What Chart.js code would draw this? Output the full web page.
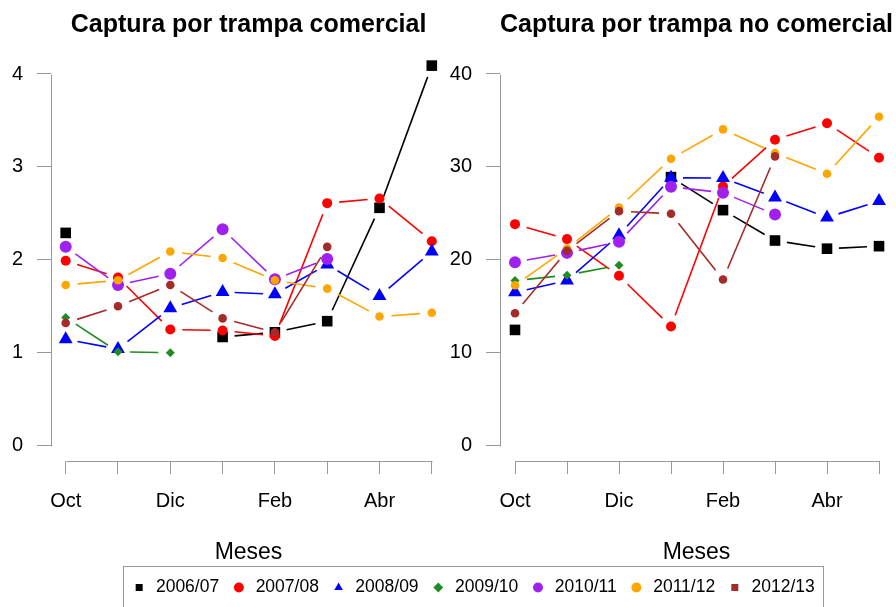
<!DOCTYPE html>
<html>
<head>
<meta charset="utf-8">
<script src="https://cdn.jsdelivr.net/npm/chart.js@4.4.1/dist/chart.umd.min.js"></script>
<style>
  html, body { margin: 0; padding: 0; background: #fff; overflow: hidden; }
  #wrap { position: relative; width: 896px; height: 607px; overflow: hidden; background: #fff; }
  #c1 { position: absolute; left: 0; top: 0; }
  #c2 { position: absolute; left: 440px; top: 0; }
  #c3 { position: absolute; left: 0; top: 560px; }
</style>
</head>
<body>
<div id="wrap">
  <canvas id="c1" width="446" height="580"></canvas>
  <canvas id="c2" width="453" height="580"></canvas>
  <canvas id="c3" width="896" height="70"></canvas>
</div>
<script>
// meses de la temporada (solo se rotulan Oct, Dic, Feb, Abr)
const meses = ['Oct', 'Nov', 'Dic', 'Ene', 'Feb', 'Mar', 'Abr', 'May'];
const temporadas = ['2006/07', '2007/08', '2008/09', '2009/10', '2010/11', '2011/12', '2012/13'];

// captura por trampa comercial
const com0607 = [2.29, null, null, 1.17, 1.22, 1.34, 2.56, 4.09];
const com0708 = [1.99, 1.81, 1.25, 1.24, 1.18, 2.61, 2.66, 2.20];
const com0809 = [1.145, 1.04, 1.48, 1.655, 1.63, 1.95, 1.61, 2.09];
const com0910 = [1.38, 1.01, 1.00, null, null, null, null, null];
const com1011 = [2.14, 1.73, 1.85, 2.33, 1.79, 2.01, null, null];
const com1112 = [1.73, 1.78, 2.09, 2.02, 1.78, 1.69, 1.39, 1.43];
const com1213 = [1.32, 1.50, 1.73, 1.37, 1.22, 2.14, null, null];

// captura por trampa no comercial
const noc0607 = [12.46, null, null, 28.9, 25.35, 22.08, 21.2, 21.47];
const noc0708 = [23.84, 22.23, 18.28, 12.82, 27.9, 32.93, 34.69, 30.99];
const noc0809 = [16.5, 17.77, 22.66, 28.83, 28.8, 26.71, 24.56, 26.32];
const noc0910 = [17.77, 18.35, 19.43, null, null, null, null, null];
const noc1011 = [19.75, 20.75, 21.94, 27.86, 27.22, 24.88, null, null];
const noc1112 = [17.27, 21.22, 25.64, 30.88, 34.04, 31.49, 29.26, 35.4];
const noc1213 = [14.25, 20.97, 25.24, 24.96, 17.88, 31.13, null, null];

const ticksCom = [0, 1, 2, 3, 4];
const ticksNoc = [0, 10, 20, 30, 40];

const colores = ['#000000', '#FF0000', '#0000FF', '#228B22', '#A020F0', '#FFA500', '#A52A2A'];
const simbolos = ['rect', 'circle', 'triangle', 'rectRot', 'circle', 'circle', 'circle'];
const simbolosLeyenda = ['rect', 'circle', 'triangle', 'rectRot', 'circle', 'circle', 'rect'];
const radios = [7.5, 5, 8, 4.5, 6, 4.3, 4.3];

const GRIS = '#999999';
const HUECO = 12;
const FUENTE = 'Liberation Sans, Arial, sans-serif';

// lineas tipo "b" de R: cortadas alrededor de cada punto
const lineasConHueco = {
    id: 'lineasConHueco',
    beforeDatasetDraw(chart, args) {
        const pts = args.meta.data;
        const ds = chart.data.datasets[args.index];
        const ctx = chart.ctx;
        ctx.save();
        ctx.strokeStyle = ds.borderColor;
        ctx.lineWidth = 1.6;
        for (let i = 0; i < pts.length - 1; i++) {
            if (pts[i].skip || pts[i + 1].skip) continue;
            const dx = pts[i + 1].x - pts[i].x;
            const dy = pts[i + 1].y - pts[i].y;
            const len = Math.hypot(dx, dy);
            if (len <= 2 * HUECO) continue;
            const ux = dx / len, uy = dy / len;
            ctx.beginPath();
            ctx.moveTo(pts[i].x + ux * HUECO, pts[i].y + uy * HUECO);
            ctx.lineTo(pts[i + 1].x - ux * HUECO, pts[i + 1].y - uy * HUECO);
            ctx.stroke();
        }
        ctx.restore();
    }
};

// ejes al estilo R: solo entre el primer y ultimo tick
const ejesR = {
    id: 'ejesR',
    afterDraw(chart) {
        const {ctx, chartArea, scales: {x, y}} = chart;
        const yTicks = y.ticks.map(t => t.value);
        const xTicks = x.ticks.map(t => t.value);
        const ax = Math.round(chartArea.left) + 0.5;
        const ay = Math.round(chartArea.bottom) + 0.5;
        ctx.save();
        ctx.strokeStyle = GRIS;
        ctx.lineWidth = 1;
        ctx.beginPath();
        ctx.moveTo(ax, Math.round(y.getPixelForValue(yTicks[0])) + 0.5);
        ctx.lineTo(ax, Math.round(y.getPixelForValue(yTicks[yTicks.length - 1])) + 0.5);
        ctx.moveTo(Math.round(x.getPixelForValue(xTicks[0])) + 0.5, ay);
        ctx.lineTo(Math.round(x.getPixelForValue(xTicks[xTicks.length - 1])) + 0.5, ay);
        ctx.stroke();
        ctx.restore();
    }
};

function hacerPanel(canvasId, titulo, series, yTicks, yMin, yMax, ejeAncho, xMin, xMax) {
    const datasets = series.map((serie, i) => ({
        label: temporadas[i],
        data: serie.map((v, j) => ({x: j, y: v})),
        borderColor: colores[i],
        backgroundColor: colores[i],
        pointStyle: simbolos[i],
        pointRadius: radios[i],
        pointHoverRadius: radios[i],
        pointBackgroundColor: colores[i],
        pointBorderWidth: 0,
        showLine: false,
        clip: false,
        order: series.length - i
    }));
    return new Chart(document.getElementById(canvasId), {
        type: 'line',
        data: {datasets: datasets},
        plugins: [lineasConHueco, ejesR],
        options: {
            responsive: false,
            animation: false,
            layout: {padding: 0, autoPadding: false},
            plugins: {
                legend: {display: false},
                tooltip: {enabled: false},
                title: {
                    display: true,
                    fullSize: false,
                    text: titulo,
                    color: '#000',
                    font: {family: FUENTE, size: 25, weight: 'bold'},
                    padding: {top: 10, bottom: 15.4}
                }
            },
            scales: {
                x: {
                    type: 'linear',
                    min: xMin,
                    max: xMax,
                    afterBuildTicks: ax => { ax.ticks = meses.map((m, i) => ({value: i})); },
                    afterFit: ax => { ax.height = 119; ax.paddingLeft = 0; ax.paddingRight = 0; },
                    border: {display: false},
                    grid: {display: true, drawOnChartArea: false, drawTicks: true, tickLength: 13, color: GRIS},
                    ticks: {
                        autoSkip: false,
                        maxRotation: 0,
                        padding: 15,
                        color: '#000',
                        font: {family: FUENTE, size: 20},
                        callback: (v, i) => (i % 2 === 0 ? meses[i] : '')
                    },
                    title: {
                        display: true,
                        text: 'Meses',
                        color: '#000',
                        font: {family: FUENTE, size: 23},
                        padding: {top: 0, bottom: 14}
                    }
                },
                y: {
                    min: yMin,
                    max: yMax,
                    afterBuildTicks: ax => { ax.ticks = yTicks.map(v => ({value: v})); },
                    afterFit: ax => { ax.width = ejeAncho; },
                    border: {display: false},
                    grid: {display: true, drawOnChartArea: false, drawTicks: true, tickLength: 14, color: GRIS},
                    ticks: {
                        padding: 14,
                        color: '#000',
                        font: {family: FUENTE, size: 20}
                    }
                }
            }
        }
    });
}

hacerPanel('c1', 'Captura por trampa comercial',
    [com0607, com0708, com0809, com0910, com1011, com1112, com1213],
    ticksCom, -0.1646, 4.2, 51, -0.281, 7.2715);

hacerPanel('c2', 'Captura por trampa no comercial',
    [noc0607, noc0708, noc0809, noc0910, noc1011, noc1112, noc1213],
    ticksNoc, -1.646, 42, 60, -0.2885, 7.269);

// recuadro de la leyenda
const marcoLeyenda = {
    id: 'marcoLeyenda',
    afterDraw(chart) {
        const cajas = chart.legend.legendHitBoxes;
        if (!cajas.length) return;
        const izq = cajas[0].left - 8;
        const ult = cajas[cajas.length - 1];
        const der = ult.left + ult.width + 8;
        const ctx = chart.ctx;
        ctx.save();
        ctx.strokeStyle = GRIS;
        ctx.lineWidth = 1;
        ctx.strokeRect(Math.round(izq) + 0.5, 6.5, Math.round(der - izq), 80);
        ctx.restore();
    }
};

new Chart(document.getElementById('c3'), {
    type: 'line',
    data: {
        labels: [],
        datasets: temporadas.map((t, i) => ({
            label: t,
            data: [],
            borderColor: colores[i],
            backgroundColor: colores[i],
            pointStyle: simbolosLeyenda[i],
            pointBackgroundColor: colores[i],
            pointBorderColor: colores[i],
            pointBorderWidth: 0
        }))
    },
    plugins: [marcoLeyenda],
    options: {
        responsive: false,
        animation: false,
        layout: {padding: {left: 50, top: 7}, autoPadding: false},
        scales: {x: {display: false}, y: {display: false}},
        plugins: {
            tooltip: {enabled: false},
            legend: {
                display: true,
                position: 'top',
                maxHeight: 50,
                labels: {
                    usePointStyle: true,
                    boxWidth: 16,
                    boxHeight: 7,
                    padding: 11.7,
                    color: '#000',
                    font: {family: FUENTE, size: 17.5}
                }
            }
        }
    }
});
</script>
</body>
</html>
